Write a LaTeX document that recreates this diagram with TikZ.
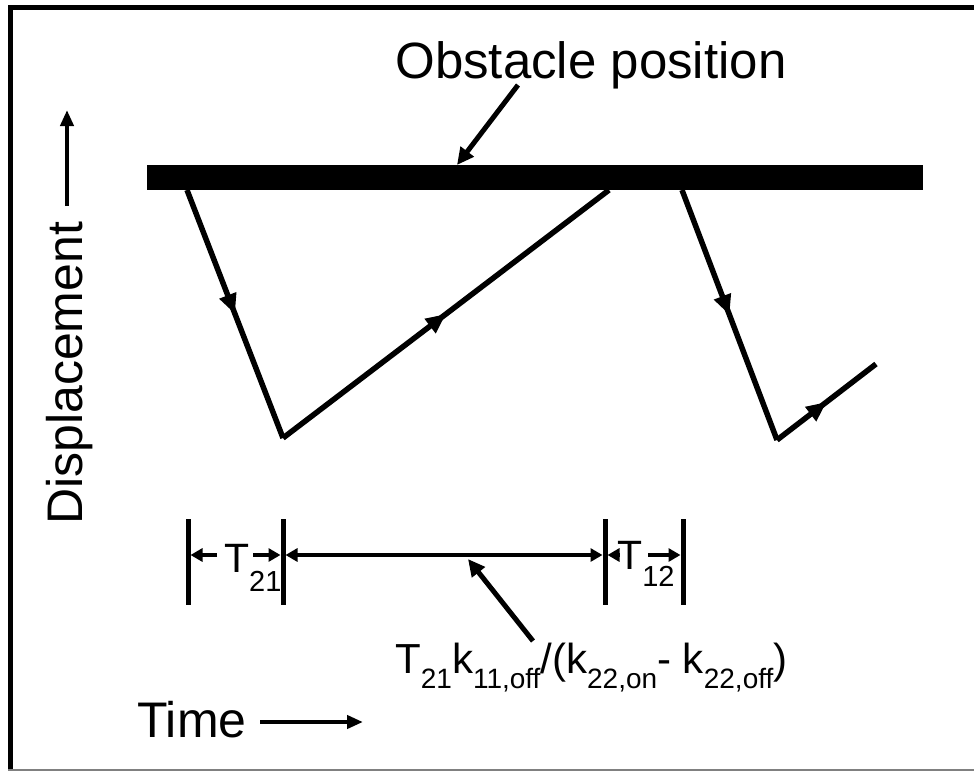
\documentclass[tikz,border=0pt]{standalone}
\usepackage{fontspec}
\setmainfont{Liberation Sans}
\usetikzlibrary{arrows.meta,decorations.markings}
\newcommand{\bigsub}[1]{\raisebox{-15pt}{\fontsize{28}{28}\selectfont #1}}
\newcommand{\tsub}[2]{\raisebox{-#1pt}{\fontsize{29}{29}\selectfont #2}}
\begin{document}
\begin{tikzpicture}[x=1pt,y=-1pt,
  bigfont/.style={font=\fontsize{50}{50}\selectfont},
  obsfont/.style={font=\fontsize{51}{51}\selectfont},
  midfont/.style={font=\fontsize{42}{42}\selectfont},
  tfont/.style={font=\fontsize{41}{41}\selectfont},
  traj/.style={line width=5.5pt, postaction={decorate},
    decoration={markings, mark=at position 0.5 with {\arrow{Triangle[length=20pt,width=17pt]}}}},
  pointer/.style={line width=5pt, -{Triangle[length=17pt,width=16pt]}},
  axisarrow/.style={line width=4pt, -{Triangle[length=16pt,width=13pt]}},
  tick/.style={line width=5pt},
  tline/.style={line width=4pt},
  tip/.style={-{Triangle[length=12pt,width=13pt]}},
  tips/.style={{Triangle[length=12pt,width=13pt]}-{Triangle[length=12pt,width=13pt]}}
]
\useasboundingbox (0,0) rectangle (974,771);
% frame
\draw[line width=5pt] (974,7.5) -- (10.5,7.5) -- (10.5,771);
\draw[line width=2pt, gray] (8,769.5) -- (974,769.5);

% obstacle
\fill (147,165) rectangle (923,190);
\node[obsfont, anchor=base, inner sep=0] (obst) at (591,78) {Obstacle position};
\coordinate (obstTail) at (518,85);
\coordinate (obstTip) at (457,165);
\draw[pointer] (obstTail) -- (obstTip);

% trajectory
\coordinate (p0) at (187,190);
\coordinate (p1) at (283,438);
\coordinate (p2) at (609,190);
\coordinate (p3) at (682,190);
\coordinate (p4) at (777,440);
\coordinate (p5) at (876,364);
\draw[traj] (p0) -- (p1);
\draw[traj] (p1) -- (p2);
\draw[traj] (p3) -- (p4);
\draw[traj] (p4) -- (p5);

% axes labels
\node[bigfont, rotate=90, anchor=base west, inner sep=0] (disp) at (82,525) {Displacement};
\coordinate (dTail) at (67,206);
\coordinate (dTip) at (67,110);
\draw[axisarrow] (dTail) -- (dTip);

\node[bigfont, anchor=base west, inner sep=0] (time) at (137,737) {Time};
\coordinate (tTail) at (260,722);
\coordinate (tTip) at (363,722);
\draw[axisarrow] (tTail) -- (tTip);

% timeline
\coordinate (b1t) at (188,519); \coordinate (b1b) at (188,605);
\coordinate (b2t) at (283,519); \coordinate (b2b) at (283,605);
\coordinate (b3t) at (605,519); \coordinate (b3b) at (605,605);
\coordinate (b4t) at (683,519); \coordinate (b4b) at (683,605);
\draw[tick] (b1t) -- (b1b);
\draw[tick] (b2t) -- (b2b);
\draw[tick] (b3t) -- (b3b);
\draw[tick] (b4t) -- (b4b);

\coordinate (a1s) at (217,555); \coordinate (a1e) at (190.5,555);
\coordinate (a2s) at (253,555); \coordinate (a2e) at (280.5,555);
\coordinate (a3s) at (285.5,555); \coordinate (a3e) at (602.5,555);
\coordinate (a4s) at (619,555); \coordinate (a4e) at (607.5,555);
\coordinate (a5s) at (648,555); \coordinate (a5e) at (680.5,555);
\draw[tline,tip] (a1s) -- (a1e);
\draw[tline,tip] (a2s) -- (a2e);
\draw[tline,tips] (a3s) -- (a3e);
\draw[tline,tip] (a4s) -- (a4e);
\draw[tline,tip] (a5s) -- (a5e);

\node[tfont, anchor=base west, inner sep=0] (t21) at (224,572) {T\tsub{19}{21}};
\node[tfont, anchor=base west, inner sep=0] (t12) at (617,569) {T\tsub{17}{12}};

\node[midfont, anchor=base west, inner sep=0] (expr) at (395,673)
  {T\bigsub{21}k\bigsub{11,off}/(k\bigsub{22,on}- k\bigsub{22,off})};
\coordinate (eTail) at (533,641);
\coordinate (eTip) at (468,559);
\draw[pointer] (eTail) -- (eTip);
\end{tikzpicture}
\end{document}
